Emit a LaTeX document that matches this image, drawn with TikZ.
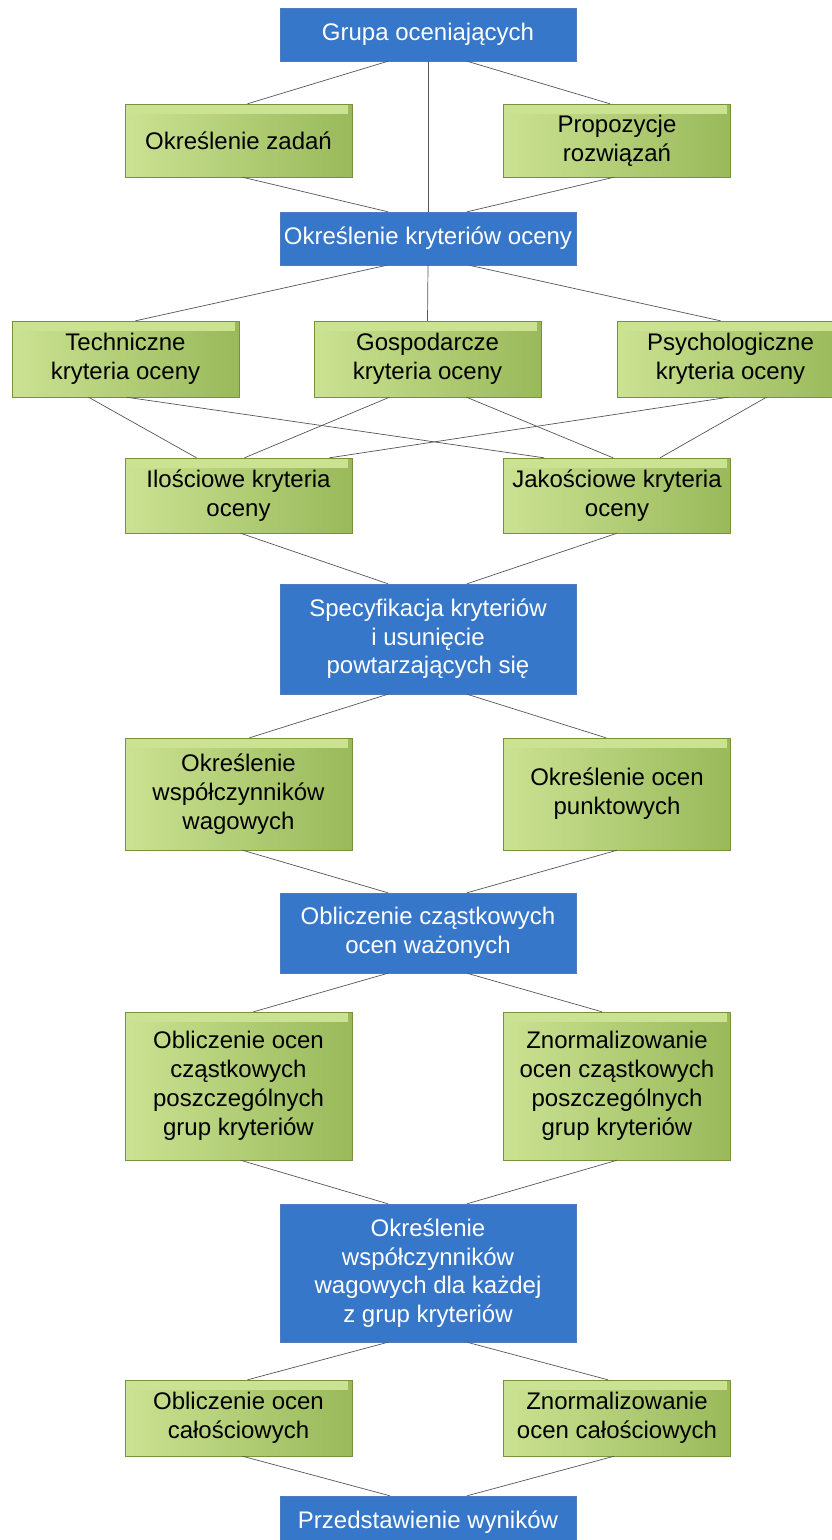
\documentclass[tikz,border=0pt]{standalone}
\usepackage{fontspec}
\setmainfont{Liberation Sans}
\usetikzlibrary{positioning}
\definecolor{boxblue}{RGB}{54,119,202}
\definecolor{blueline}{RGB}{84,124,186}
\definecolor{greenlight}{RGB}{203,226,146}
\definecolor{greendark}{RGB}{153,185,90}
\definecolor{greenline}{RGB}{118,146,60}
\definecolor{linkgray}{RGB}{85,85,85}
\tikzset{
  bbox/.style={rectangle, draw=blueline, fill=boxblue, text=white,
               minimum width=296pt, minimum height=53pt, inner sep=2pt,
               align=center, font=\fontsize{24}{28.5}\selectfont},
  gbox/.style={rectangle, draw=greenline, left color=greenlight,
               right color=greendark, minimum width=227pt, minimum height=76pt,
               inner sep=2pt, align=center, font=\fontsize{24}{29}\selectfont,
               path picture={\fill[greenlight] (path picture bounding box.north west)
                 rectangle ([xshift=-4pt,yshift=-10pt]path picture bounding box.north east);}},
  link/.style={draw=linkgray, line width=0.7pt},
}
\begin{document}
\begin{tikzpicture}[x=1pt, y=-1pt]
    \useasboundingbox (0,0) rectangle (832,1540);
    \clip (0,0) rectangle (832,1540);
    % top part
    \node[bbox] (grupa) at (428,34.5) {Grupa oceniających};
    \node[gbox, minimum height=73pt] (zadan) at (238.5,140.5) {Określenie zadań};
    \node[gbox, minimum height=73pt] (propo) at (617,140.5) {Propozycje\\rozwiązań};
    \node[bbox] (kryt) at (428,238.5) {Określenie kryteriów oceny};
    \node[gbox] (tech) at (125.5,359) {Techniczne\\kryteria oceny};
    \node[gbox] (gosp) at (427.5,359) {Gospodarcze\\kryteria oceny};
    \node[gbox] (psych) at (730.5,359) {Psychologiczne\\kryteria oceny};
    \node[gbox, minimum height=75pt] (ilosc) at (238.5,495.5) {Ilościowe kryteria\\oceny};
    \node[gbox, minimum height=75pt] (jakosc) at (617,495.5) {Jakościowe kryteria\\oceny};
    \node[bbox, minimum height=110pt] (spec) at (428,639)
          {Specyfikacja kryteriów\\i usunięcie\\powtarzających się};
    % lower part
    \node[gbox, minimum height=112pt] (wspol) at (238.5,794)
          {Określenie\\współczynników\\wagowych};
    \node[gbox, minimum height=112pt] (punkt) at (617,794) {Określenie ocen\\punktowych};
    \node[bbox, minimum height=80pt] (oblw) at (428,933) {Obliczenie cząstkowych\\ocen ważonych};
    \node[gbox, minimum height=148pt] (oblcz) at (238.5,1086)
          {Obliczenie ocen\\cząstkowych\\poszczególnych\\grup kryteriów};
    \node[gbox, minimum height=148pt] (norcz) at (617,1086)
          {Znormalizowanie\\ocen cząstkowych\\poszczególnych\\grup kryteriów};
    \node[bbox, minimum height=138pt] (wspgr) at (428,1273)
          {Określenie\\współczynników\\wagowych dla każdej\\z grup kryteriów};
    \node[gbox] (calos) at (238.5,1418) {Obliczenie ocen\\całościowych};
    \node[gbox] (norcal) at (617,1418) {Znormalizowanie\\ocen całościowych};
    \node[bbox] (wynik) at (428,1522.5) {Przedstawienie wyników};
    % connectors
    \draw[link] ([xshift=-40pt]grupa.south) -- ([xshift=9pt]zadan.north);
    \draw[link] ([xshift=39pt]grupa.south) -- ([xshift=-7pt]propo.north);
    \draw[link] (grupa.south) -- (kryt.north);
    \draw[link] ([xshift=4pt]zadan.south) -- ([xshift=-40pt]kryt.north);
    \draw[link] ([xshift=-3pt]propo.south) -- ([xshift=39pt]kryt.north);
    \draw[link] ([xshift=-41pt]kryt.south) -- ([xshift=10pt]tech.north);
    \draw[link] (kryt.south) -- (gosp.north);
    \draw[link] ([xshift=41pt]kryt.south) -- ([xshift=-10pt]psych.north);
    \draw[link] ([xshift=-37pt]tech.south) -- ([xshift=-42pt]ilosc.north);
    \draw[link] ([xshift=1pt]tech.south) -- ([xshift=-73pt]jakosc.north);
    \draw[link] ([xshift=-38pt]gosp.south) -- ([xshift=6pt]ilosc.north);
    \draw[link] ([xshift=39pt]gosp.south) -- ([xshift=-4pt]jakosc.north);
    \draw[link] ([xshift=-2pt]psych.south) -- ([xshift=91pt]ilosc.north);
    \draw[link] ([xshift=36pt]psych.south) -- ([xshift=43pt]jakosc.north);
    \draw[link] ([xshift=2pt]ilosc.south) -- ([xshift=-40pt]spec.north);
    \draw[link] (jakosc.south) -- ([xshift=39pt]spec.north);
    \draw[link] ([xshift=-40pt]spec.south) -- ([xshift=11pt]wspol.north);
    \draw[link] ([xshift=39pt]spec.south) -- ([xshift=-11pt]punkt.north);
    \draw[link] ([xshift=4pt]wspol.south) -- ([xshift=-40pt]oblw.north);
    \draw[link] (punkt.south) -- ([xshift=39pt]oblw.north);
    \draw[link] ([xshift=-40pt]oblw.south) -- ([xshift=15pt]oblcz.north);
    \draw[link] ([xshift=39pt]oblw.south) -- ([xshift=-15pt]norcz.north);
    \draw[link] ([xshift=2pt]oblcz.south) -- ([xshift=-40pt]wspgr.north);
    \draw[link] (norcz.south) -- ([xshift=39pt]wspgr.north);
    \draw[link] ([xshift=-40pt]wspgr.south) -- ([xshift=9pt]calos.north);
    \draw[link] ([xshift=39pt]wspgr.south) -- ([xshift=-9pt]norcal.north);
    \draw[link] ([xshift=4pt]calos.south) -- ([xshift=-38pt]wynik.north);
    \draw[link] ([xshift=-3pt]norcal.south) -- ([xshift=39pt]wynik.north);
  \end{tikzpicture}
\end{document}
